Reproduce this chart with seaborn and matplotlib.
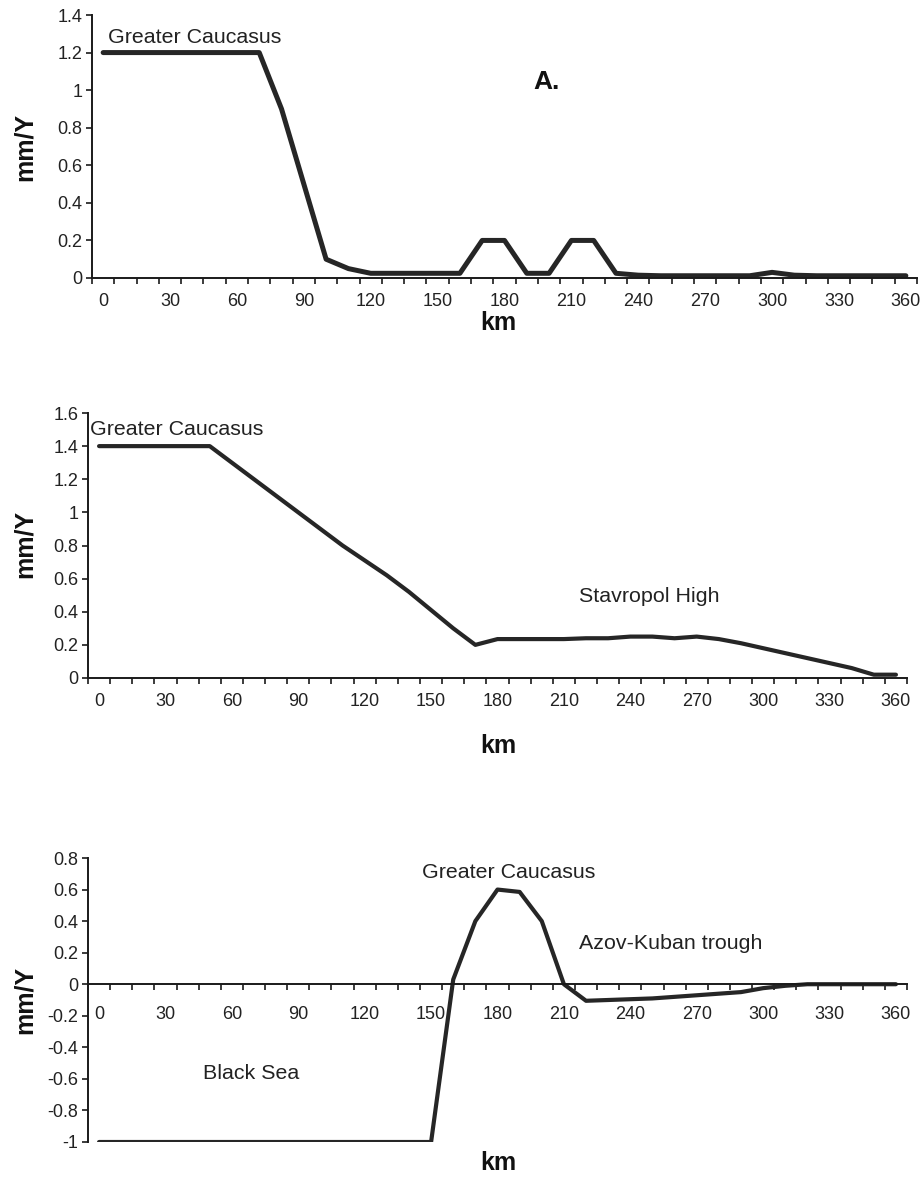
import numpy as np
import pandas as pd
import matplotlib
matplotlib.use("Agg")
import matplotlib.pyplot as plt
import seaborn as sns
from matplotlib.ticker import FixedLocator, FuncFormatter

sns.set_style("white")
plt.rcParams['font.family'] = ['Liberation Sans', 'DejaVu Sans']

km = list(range(0, 370, 10))

rate_a = [1.2, 1.2, 1.2, 1.2, 1.2, 1.2, 1.2, 1.2, 0.9, 0.5, 0.1, 0.05, 0.025,
          0.025, 0.025, 0.025, 0.025, 0.2, 0.2, 0.025, 0.025, 0.2, 0.2, 0.025,
          0.015, 0.012, 0.012, 0.012, 0.012, 0.012, 0.03, 0.015, 0.012, 0.012,
          0.012, 0.012, 0.012]

rate_b = [1.4, 1.4, 1.4, 1.4, 1.4, 1.4, 1.3, 1.2, 1.1, 1.0, 0.9, 0.8, 0.71,
          0.62, 0.52, 0.41, 0.3, 0.2, 0.235, 0.235, 0.235, 0.235, 0.24, 0.24,
          0.25, 0.25, 0.24, 0.25, 0.235, 0.21, 0.18, 0.15, 0.12, 0.09, 0.06,
          0.02, 0.02]

rate_c = [-1, -1, -1, -1, -1, -1, -1, -1, -1, -1, -1, -1, -1, -1, -1, -1,
          0.03, 0.4, 0.6, 0.585, 0.4, 0.0, -0.105, -0.1, -0.095, -0.09, -0.08,
          -0.07, -0.06, -0.05, -0.025, -0.01, 0.0, 0.0, 0.0, 0.0, 0.0]

x_labels = [str(v) for v in range(0, 361, 30)]

W, H = 924, 1177
fig = plt.figure(figsize=(W / 100, H / 100), dpi=100)

line_col = "#262626"
ax_col = "#1a1a1a"
txt_col = "#222222"
ANN = 15.4
TICK = 13


def make_ax(left, right, top, bottom):
    return fig.add_axes([left / W, 1 - bottom / H, (right - left) / W, (bottom - top) / H])


def style(ax, ylim, yticks, xpad):
    ax.set_xlim(-5, 365)
    ax.set_ylim(*ylim)
    for s in ["top", "right"]:
        ax.spines[s].set_visible(False)
    for s in ["left", "bottom"]:
        ax.spines[s].set_color(ax_col)
        ax.spines[s].set_linewidth(1.4)
    ax.xaxis.set_major_locator(FixedLocator(list(range(0, 361, 30))))
    ax.set_xticklabels(x_labels)
    ax.xaxis.set_minor_locator(FixedLocator(list(range(-5, 366, 10))))
    ax.tick_params(axis="x", which="major", length=0, pad=xpad, labelsize=TICK, colors=txt_col)
    ax.tick_params(axis="x", which="minor", length=4, width=1.2, direction="out", color=ax_col, bottom=True)
    ax.yaxis.set_major_locator(FixedLocator(yticks))
    ax.yaxis.set_major_formatter(FuncFormatter(lambda v, p: f"{round(v, 2):g}"))
    ax.tick_params(axis="y", which="major", length=4, width=1.2, direction="out", color=ax_col,
                   pad=3, labelsize=TICK, labelcolor=txt_col, left=True)
    ax.set_xlabel("")
    ax.set_ylabel("")
    ax.grid(False)


# Panel A
ax1 = make_ax(92, 917, 15, 278)
sns.lineplot(x=km, y=rate_a, ax=ax1, color=line_col, linewidth=3.6)
style(ax1, (0, 1.4), [0, 0.2, 0.4, 0.6, 0.8, 1.0, 1.2, 1.4], 11)
ax1.text(2, 1.25, "Greater Caucasus", fontsize=ANN, color=txt_col, ha="left", va="baseline")
ax1.text(199, 1.043, "A.", fontsize=19, fontweight="bold", color="#111111", ha="center", va="center")

# Panel 2
ax2 = make_ax(88, 907, 413, 678)
sns.lineplot(x=km, y=rate_b, ax=ax2, color=line_col, linewidth=3.0)
style(ax2, (0, 1.6), [0, 0.2, 0.4, 0.6, 0.8, 1.0, 1.2, 1.4, 1.6], 11)
ax2.text(-4, 1.467, "Greater Caucasus", fontsize=ANN, color=txt_col, ha="left", va="baseline")
ax2.text(216.7, 0.459, "Stavropol High", fontsize=ANN, color=txt_col, ha="left", va="baseline")

# Panel 3
ax3 = make_ax(88, 907, 858, 1142)
sns.lineplot(x=km, y=rate_c, ax=ax3, color=line_col, linewidth=3.0)
style(ax3, (-1, 0.8), [-1, -0.8, -0.6, -0.4, -0.2, 0, 0.2, 0.4, 0.6, 0.8], 16)
ax3.spines["bottom"].set_position(("data", 0))
ax3.text(146, 0.675, "Greater Caucasus", fontsize=ANN, color=txt_col, ha="left", va="baseline")
ax3.text(216.8, 0.223, "Azov-Kuban trough", fontsize=ANN, color=txt_col, ha="left", va="baseline")
ax3.text(47, -0.6, "Black Sea", fontsize=ANN, color=txt_col, ha="left", va="baseline")

# Axis titles
for yc in [323, 746, 1163]:
    fig.text(498 / W, 1 - yc / H, "km", fontsize=18, fontweight="bold", ha="center", va="center", color="#111111")
for yc in [147, 544, 1000]:
    fig.text(25 / W, 1 - yc / H, "mm/Y", fontsize=18, fontweight="bold", ha="center", va="center",
             rotation=90, color="#111111")

fig.savefig("out.png", dpi=100, facecolor="white")
